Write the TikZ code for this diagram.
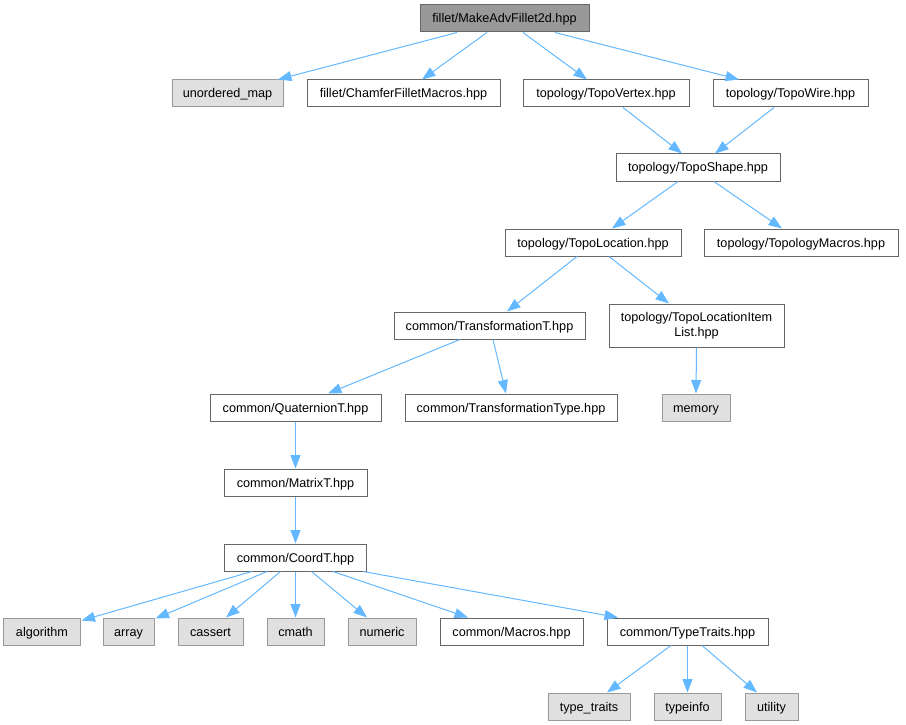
\documentclass[tikz,border=0pt]{standalone}
\usepackage{fontspec}
\setmainfont{Liberation Sans}
\usetikzlibrary{arrows.meta}
\definecolor{edgec}{HTML}{63B8FF}
\definecolor{boxb}{HTML}{666666}
\definecolor{sysb}{HTML}{999999}
\definecolor{sysf}{HTML}{E0E0E0}
\definecolor{rootf}{HTML}{999999}
\definecolor{rootb}{HTML}{666666}
\begin{document}
\begin{tikzpicture}[x=1bp,y=-1bp,
  base/.style={draw=boxb, fill=white, line width=1bp, inner sep=0pt,
    font=\fontsize{12.7}{15.5}\selectfont, minimum height=27bp},
  box/.style={base, text height=9.5bp, text depth=0.5bp},
  sys/.style={box, draw=sysb, fill=sysf},
  rootbox/.style={box, draw=rootb, fill=rootf},
  e/.style={draw=edgec, line width=1bp, -{Triangle[length=13.5bp,width=10bp]}}]
\useasboundingbox (0,0) rectangle (906,725);
% nodes
\node[rootbox, minimum width=169bp] (root) at (504.5,18.5) {fillet/MakeAdvFillet2d.hpp};
\node[sys, minimum width=111bp] (um) at (227.5,93.5) {unordered\_map};
\node[box, minimum width=193bp] (chamfer) at (403.5,93.5) {fillet/ChamferFilletMacros.hpp};
\node[box, minimum width=166bp] (vertex) at (606,93.5) {topology/TopoVertex.hpp};
\node[box, minimum width=155bp] (wire) at (790.5,93.5) {topology/TopoWire.hpp};
\node[box, minimum width=164bp] (shape) at (698,167.5) {topology/TopoShape.hpp};
\node[box, minimum width=176bp] (loc) at (593,242.5) {topology/TopoLocation.hpp};
\node[box, minimum width=194bp] (tmac) at (801,242.5) {topology/TopologyMacros.hpp};
\node[box, minimum width=191bp] (trT) at (489.5,325.5) {common/TransformationT.hpp};
\node[base, minimum width=175bp, minimum height=43bp, align=center] (item) at (696.5,325.5) {topology/TopoLocationItem\\List.hpp};
\node[box, minimum width=171bp] (quat) at (295.5,407.5) {common/QuaternionT.hpp};
\node[box, minimum width=212bp] (trType) at (511,407.5) {common/TransformationType.hpp};
\node[sys, minimum width=68bp] (memory) at (696,407.5) {memory};
\node[box, minimum width=143bp] (matrix) at (295.5,482.5) {common/MatrixT.hpp};
\node[box, minimum width=142bp] (coord) at (295.5,557.5) {common/CoordT.hpp};
\node[sys, minimum width=76bp] (alg) at (42,631.5) {algorithm};
\node[sys, minimum width=51bp] (array) at (128.5,631.5) {array};
\node[sys, minimum width=65bp] (cassert) at (210.5,631.5) {cassert};
\node[sys, minimum width=57bp] (cmath) at (295.5,631.5) {cmath};
\node[sys, minimum width=68bp] (numeric) at (382,631.5) {numeric};
\node[box, minimum width=143bp] (macros) at (511.5,631.5) {common/Macros.hpp};
\node[box, minimum width=161bp] (ttraits) at (687.5,631.5) {common/TypeTraits.hpp};
\node[sys, minimum width=82bp] (tt) at (589,706.5) {type\_traits};
\node[sys, minimum width=67bp] (tinfo) at (687.5,706.5) {typeinfo};
\node[sys, minimum width=53bp] (util) at (771.5,706.5) {utility};
% edges
\draw[e] ([xshift=-47.5bp]root.south) -- ([xshift=50.5bp]um.north);
\draw[e] ([xshift=-17.5bp]root.south) -- ([xshift=18.5bp]chamfer.north);
\draw[e] ([xshift=18.5bp]root.south) -- ([xshift=-19bp]vertex.north);
\draw[e] ([xshift=50.5bp]root.south) -- ([xshift=-51.5bp]wire.north);
\draw[e] ([xshift=17bp]vertex.south) -- ([xshift=-16bp]shape.north);
\draw[e] ([xshift=-16.5bp]wire.south) -- ([xshift=17bp]shape.north);
\draw[e] ([xshift=-20bp]shape.south) -- ([xshift=19bp]loc.north);
\draw[e] ([xshift=16bp]shape.south) -- ([xshift=-19bp]tmac.north);
\draw[e] ([xshift=-16bp]loc.south) -- ([xshift=17.5bp]trT.north);
\draw[e] ([xshift=16bp]loc.south) -- ([xshift=-27.5bp]item.north);
\draw[e] (item.south) -- (memory.north);
\draw[e] ([xshift=3.5bp]trT.south) -- ([xshift=-5bp]trType.north);
\draw[e] ([xshift=-29.5bp]trT.south) -- ([xshift=32.5bp]quat.north);
\draw[e] (quat.south) -- (matrix.north);
\draw[e] (matrix.south) -- (coord.north);
\draw[e] ([xshift=-43.5bp]coord.south) -- ([xshift=1bp,yshift=-3bp]alg.north east);
\draw[e] ([xshift=-28.5bp]coord.south) -- ([xshift=1bp,yshift=-1bp]array.north east);
\draw[e] ([xshift=-15bp]coord.south) -- ([xshift=15.5bp]cassert.north);
\draw[e] (coord.south) -- (cmath.north);
\draw[e] ([xshift=16bp]coord.south) -- ([xshift=-15bp]numeric.north);
\draw[e] ([xshift=37.5bp]coord.south) -- ([xshift=-43.5bp]macros.north);
\draw[e] ([xshift=67.5bp]coord.south) -- ([xshift=-69.5bp]ttraits.north);
\draw[e] ([xshift=-16.5bp]ttraits.south) -- ([xshift=18bp]tt.north);
\draw[e] (ttraits.south) -- (tinfo.north);
\draw[e] ([xshift=14.5bp]ttraits.south) -- ([xshift=-14.5bp]util.north);
\end{tikzpicture}
\end{document}
